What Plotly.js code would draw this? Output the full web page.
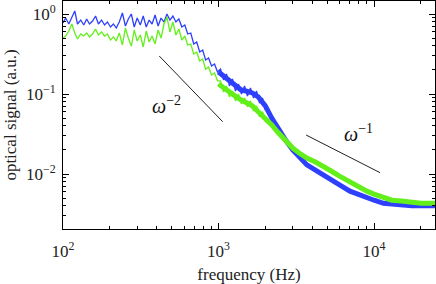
<!DOCTYPE html>
<html><head><meta charset="utf-8">
<script src="https://cdn.plot.ly/plotly-3.0.1.min.js"></script>
<style>html,body{margin:0;padding:0;background:#fff}</style>
</head><body><div id="chart" style="width:436px;height:284px"></div>
<script>
// noisy part (individual points resolved), Hz
const lowFreq = [100,104,109,114,119,124,130,136,142,148,155,162,169,177,185,193,202,211,220,230,
  241,252,263,275,287,300,314,328,343,358,374,391,409,427,446,466,487,509,532,556,
  581,607,634,663,693,724,757,791,826,863,902,943,985,
  1030,1077,1125,1175,1230,1285,1345,1405,1470,1535,1605,1680,1755,1835,1920,2000];
const blueLow = [0.772,0.891,0.750,0.917,1.090,0.750,0.841,0.729,0.866,0.750,
  0.818,0.944,0.750,0.841,0.729,0.794,0.688,0.750,0.668,0.794,
  1.029,0.708,0.866,1.000,0.688,0.891,0.729,0.944,0.688,0.841,
  0.750,0.972,0.708,0.891,0.794,1.000,0.841,0.944,0.794,0.866,
  0.688,0.729,0.562,0.579,0.422,0.447,0.335,0.355,0.266,0.282,
  0.224,0.237,0.188,
  0.205,0.150,0.178,0.126,0.154,0.109,0.133,0.100,0.126,0.094,0.119,0.089,0.109,0.077,0.089,0.063];
const greenLow = [0.501,0.531,0.613,0.750,0.579,0.487,0.562,0.531,0.579,0.516,
  0.562,0.649,0.546,0.596,0.531,0.562,0.473,0.516,0.460,0.579,
  0.410,0.668,0.501,0.398,0.631,0.460,0.546,0.387,0.613,0.447,
  0.531,0.422,0.631,0.501,0.750,0.917,0.596,0.794,0.546,0.649,
  0.473,0.531,0.410,0.422,0.316,0.335,0.259,0.274,0.205,0.218,
  0.173,0.183,0.146,
  0.146,0.106,0.126,0.092,0.109,0.082,0.100,0.075,0.089,0.069,0.082,0.061,0.071,0.052,0.060,0.045];
// dense noisy band (centre line), Hz
const highFreq = [1000,1100,1200,1300,1400,1500,1650,1800,2000,2200,2400,2700,3000,3300,3700,
  4200,4700,5300,6000,7000,8000,9000,10000,11500,13000,15000,17500,20000,22500,25000];
const blueHigh = [0.188,0.163,0.141,0.122,0.112,0.109,0.103,0.092,0.071,0.050,0.0376,0.0266,0.0200,0.0163,0.0130,
  0.0112,0.0097,0.0082,0.0073,0.0061,0.0055,0.0050,0.0047,0.0043,0.0042,0.0040,0.0040,0.0040,0.0040,0.0040];
const greenHigh = [0.133,0.116,0.100,0.092,0.084,0.077,0.071,0.060,0.050,0.041,0.0335,0.0259,0.0211,0.0183,0.0158,
  0.0141,0.0126,0.0109,0.0094,0.0079,0.0067,0.0061,0.0056,0.0051,0.0047,0.0046,0.0044,0.0043,0.0043,0.0043];
// guide lines
const slope2Freq = [416, 1064], slope2Val = [0.2985, 0.045];
const slope1Freq = [3656, 10940], slope1Val = [0.0307, 0.01038];
const slope2Label = {f: 464, v: 0.0729, text: '<i>ω</i><sup>−2</sup>'};
const slope1Label = {f: 7890, v: 0.0325, text: '<i>ω</i><sup>−1</sup>'};
// ticks
const xTickVals = [100, 1000, 10000];
const xTickText = ['10<sup>2</sup>', '10<sup>3</sup>', '10<sup>4</sup>'];
const xMinor = [200,300,400,500,600,700,800,900,2000,3000,4000,5000,6000,7000,8000,9000,20000];
const yTickVals = [0.01, 0.1, 1];
const yTickText = ['10<sup>−2</sup>', '10<sup>−1</sup>', '10<sup>0</sup>'];
const yMinor = [0.003,0.004,0.005,0.006,0.007,0.008,0.009,0.02,0.03,0.04,0.05,0.06,0.07,0.08,0.09,0.2,0.3,0.4,0.5,0.6,0.7,0.8,0.9];

const BLUE = '#2e40fb', GREEN = '#63ef1a';
const traces = [
  {x: highFreq, y: blueHigh, mode: 'lines', line: {color: BLUE, width: 5}},
  {x: lowFreq, y: blueLow, mode: 'lines', line: {color: BLUE, width: 1.3}},
  {x: highFreq, y: greenHigh, mode: 'lines', line: {color: GREEN, width: 5}},
  {x: lowFreq, y: greenLow, mode: 'lines', line: {color: GREEN, width: 1.3}},
  {x: slope2Freq, y: slope2Val, mode: 'lines', line: {color: '#222', width: 1}},
  {x: slope1Freq, y: slope1Val, mode: 'lines', line: {color: '#222', width: 1}}
];
const FONT = 'Liberation Serif, Times New Roman, serif';
const axisCommon = {
  type: 'log', showgrid: false, zeroline: false, showline: true, linecolor: '#000', linewidth: 1,
  mirror: 'ticks', ticks: 'inside', ticklen: 6, tickwidth: 1, tickcolor: '#000',
  tickfont: {family: FONT, size: 17, color: '#222'}, tickmode: 'array',
  minor: {ticks: 'inside', ticklen: 3, tickwidth: 1, tickcolor: '#000', showgrid: false, tickmode: 'array'}
};
const layout = {
  width: 436, height: 284, margin: {l: 63, r: 1, t: 1, b: 55},
  paper_bgcolor: '#fff', plot_bgcolor: '#fff', showlegend: false,
  font: {family: FONT, color: '#222'},
  xaxis: Object.assign({}, axisCommon, {
    range: [2, 4.392], tickvals: xTickVals, ticktext: xTickText, ticklabelstandoff: 7,
    minor: Object.assign({}, axisCommon.minor, {tickvals: xMinor}),
    title: {text: 'frequency (Hz)', font: {family: FONT, size: 17, color: '#222'}, standoff: 12}
  }),
  yaxis: Object.assign({}, axisCommon, {
    range: [-2.6875, 0.1625], tickvals: yTickVals, ticktext: yTickText, ticklabelstandoff: 3,
    minor: Object.assign({}, axisCommon.minor, {tickvals: yMinor}),
    title: {text: 'optical signal (a.u.)', font: {family: FONT, size: 17, color: '#222'}, standoff: 4}
  }),
  annotations: [slope2Label, slope1Label].map(a => ({
    x: Math.log10(a.f), y: Math.log10(a.v), xref: 'x', yref: 'y', text: a.text, showarrow: false,
    font: {family: FONT, size: 20, color: '#111'}
  }))
};
Plotly.newPlot('chart', traces, layout, {staticPlot: true, displayModeBar: false});
</script></body></html>
